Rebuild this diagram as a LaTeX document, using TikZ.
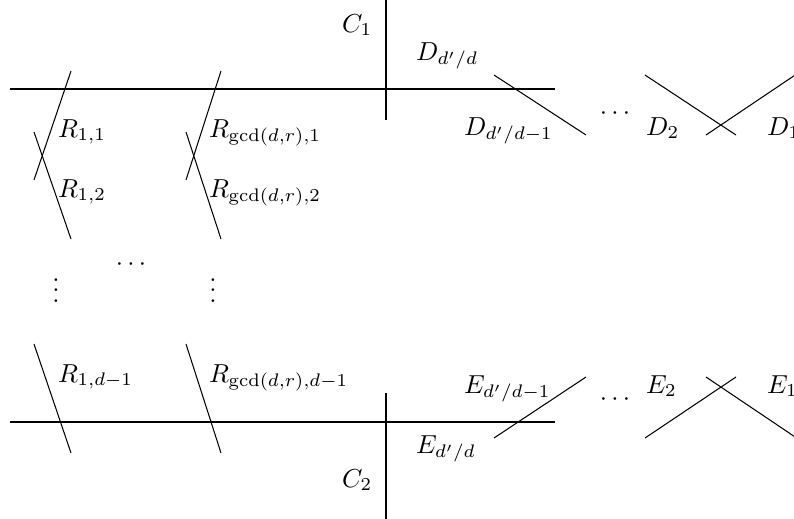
\documentclass[tikz,border=0pt]{standalone}
\begin{document}
\begin{tikzpicture}[x=0.3846pt,y=-0.3846pt,
  lbl/.style={anchor=base west,inner sep=0pt,outer sep=0pt},
  dotsnode/.style={inner sep=0pt,outer sep=0pt},
  curve/.style={line width=0.4pt},
  bigcurve/.style={line width=1.1pt}]
\useasboundingbox (0,0) rectangle (794,518);
\clip (0,0) rectangle (794,518);
% coordinates
\coordinate (h1a) at (10,89);   \coordinate (h1b) at (555,89);
\coordinate (h2a) at (10,422);  \coordinate (h2b) at (555,422);
\coordinate (v1a) at (386,-5);  \coordinate (v1b) at (386,120);
\coordinate (v2a) at (386,393); \coordinate (v2b) at (386,525);
% thick curves C1, C2 and horizontal curves
\draw[bigcurve] (h1a) -- (h1b);
\draw[bigcurve] (h2a) -- (h2b);
\draw[bigcurve] (v1a) -- (v1b);
\draw[bigcurve] (v2a) -- (v2b);
% R curves
\coordinate (r11a) at (71,71);   \coordinate (r11b) at (34,180);
\coordinate (r12a) at (34,132);  \coordinate (r12b) at (71,239);
\coordinate (g1a) at (221,71);   \coordinate (g1b) at (186,180);
\coordinate (g2a) at (186,132);  \coordinate (g2b) at (221,239);
\coordinate (r1da) at (34,344);  \coordinate (r1db) at (71,453);
\coordinate (gda) at (186,344);  \coordinate (gdb) at (221,453);
\draw[curve] (r11a) -- (r11b);
\draw[curve] (r12a) -- (r12b);
\draw[curve] (g1a) -- (g1b);
\draw[curve] (g2a) -- (g2b);
\draw[curve] (r1da) -- (r1db);
\draw[curve] (gda) -- (gdb);
% D curves
\coordinate (dda) at (494,75);  \coordinate (ddb) at (586,135);
\coordinate (d2a) at (645,75);  \coordinate (d2b) at (736,135);
\coordinate (d1a) at (706,135); \coordinate (d1b) at (810,65);
\draw[curve] (dda) -- (ddb);
\draw[curve] (d2a) -- (d2b);
\draw[curve] (d1a) -- (d1b);
% E curves
\coordinate (eda) at (494,438); \coordinate (edb) at (586,377);
\coordinate (e2a) at (645,438); \coordinate (e2b) at (736,377);
\coordinate (e1a) at (706,377); \coordinate (e1b) at (810,447);
\draw[curve] (eda) -- (edb);
\draw[curve] (e2a) -- (e2b);
\draw[curve] (e1a) -- (e1b);
% labels
\node[lbl] (C1) at (342,32) {$C_1$};
\node[lbl] (C2) at (342,487) {$C_2$};
\node[lbl] (R11) at (58,137) {$R_{1,1}$};
\node[lbl] (R12) at (58,197) {$R_{1,2}$};
\node[lbl] (Rg1) at (209,137) {$R_{\gcd(d,r),1}$};
\node[lbl] (Rg2) at (209,197) {$R_{\gcd(d,r),2}$};
\node[lbl] (R1d) at (58,382) {$R_{1,d-1}$};
\node[lbl] (Rgd) at (209,382) {$R_{\gcd(d,r),d-1}$};
\node[dotsnode,anchor=base] (vd1) at (56,302) {$\vdots$};
\node[dotsnode,anchor=base] (vd2) at (213,302) {$\vdots$};
\node[dotsnode,anchor=base] (cd0) at (131,270) {$\cdots$};
\node[lbl] (Ddd) at (416,60) {$D_{d'/d}$};
\node[lbl] (Dd1) at (464,135) {$D_{d'/d-1}$};
\node[dotsnode,anchor=base] (cd1) at (615,119) {$\cdots$};
\node[lbl] (D2) at (646,135) {$D_2$};
\node[lbl] (D1) at (767,135) {$D_1$};
\node[lbl] (Ed1) at (464,393) {$E_{d'/d-1}$};
\node[lbl] (Edd) at (416,453) {$E_{d'/d}$};
\node[dotsnode,anchor=base] (cd2) at (615,405) {$\cdots$};
\node[lbl] (E2) at (646,393) {$E_2$};
\node[lbl] (E1) at (767,393) {$E_1$};
\end{tikzpicture}
\end{document}
